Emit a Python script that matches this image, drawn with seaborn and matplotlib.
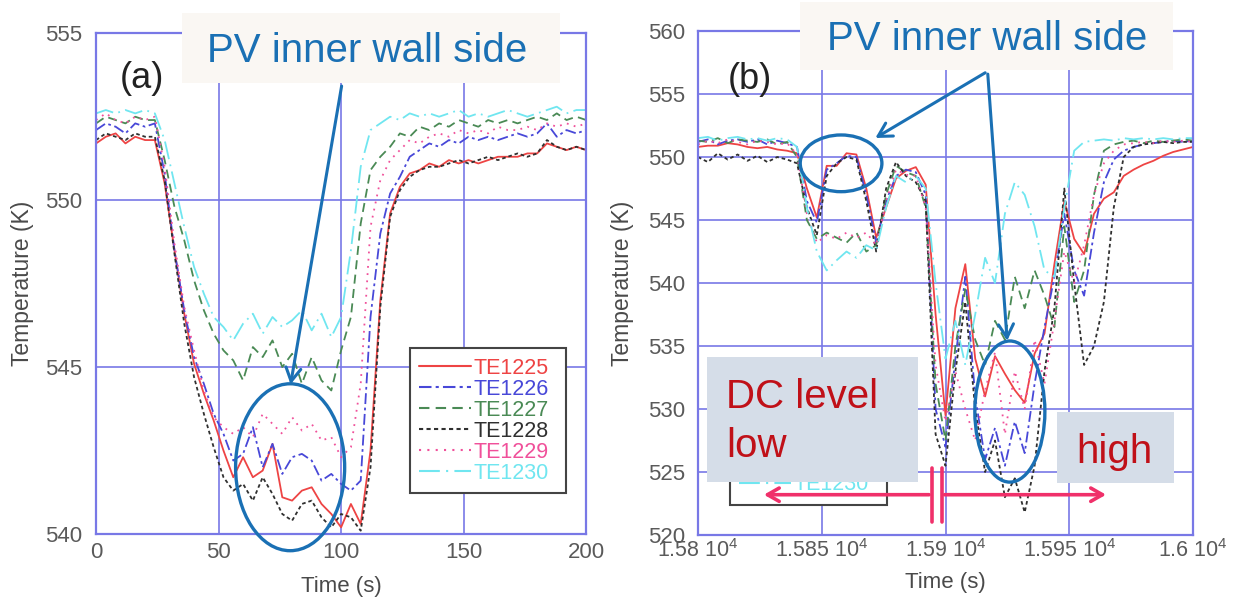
import numpy as np
import pandas as pd
import matplotlib
matplotlib.use("Agg")
import matplotlib.pyplot as plt
from matplotlib.patches import Ellipse, Rectangle
from matplotlib.lines import Line2D
import seaborn as sns

# ---------------- data ----------------
series_names = ["TE1225", "TE1226", "TE1227", "TE1228", "TE1229", "TE1230"]

time_a = [0, 4, 8, 12, 16, 20, 24, 28, 32, 36, 40, 44, 48, 52, 56, 60, 64, 68, 72, 76,
          80, 84, 88, 92, 96, 100, 104, 108, 112, 116, 120, 124, 128, 132, 136, 140,
          144, 148, 152, 156, 160, 164, 168, 172, 176, 180, 184, 188, 192, 196, 200]

te1225_a = [551.7, 551.9, 552.0, 551.7, 551.9, 551.8, 551.8, 550.5, 548.5, 546.6, 545.1,
            544.2, 543.4, 542.5, 541.7, 542.3, 541.7, 541.9, 542.7, 541.1, 541.0, 541.3,
            541.4, 540.9, 540.6, 540.2, 540.9, 540.3, 542.5, 547.0, 549.6, 550.4, 550.8,
            550.9, 551.1, 551.0, 551.2, 551.1, 551.2, 551.1, 551.2, 551.3, 551.3, 551.3,
            551.4, 551.4, 551.7, 551.6, 551.5, 551.6, 551.5]
te1226_a = [552.1, 552.3, 552.2, 552.0, 552.3, 552.2, 552.3, 550.8, 548.5, 546.7, 545.3,
            544.5, 543.6, 543.0, 542.2, 542.4, 543.2, 542.0, 542.7, 541.8, 542.3, 542.4,
            542.2, 541.6, 541.8, 541.5, 541.3, 541.6, 546.5, 549.0, 550.2, 550.7, 551.3,
            551.5, 551.7, 551.6, 551.8, 551.7, 551.9, 551.8, 551.9, 551.8, 551.9, 552.0,
            551.9, 552.0, 552.3, 551.9, 552.1, 552.0, 552.1]
te1227_a = [552.3, 552.5, 552.4, 552.3, 552.5, 552.4, 552.4, 551.2, 549.8, 548.8, 547.6,
            546.7, 546.0, 545.5, 545.2, 544.6, 545.6, 545.3, 545.8, 545.0, 545.4, 544.5,
            545.3, 544.6, 544.3, 545.5, 546.5, 549.3, 550.9, 551.3, 551.6, 552.0, 551.9,
            552.2, 552.1, 552.3, 552.2, 552.4, 552.3, 552.2, 552.4, 552.3, 552.4, 552.3,
            552.4, 552.5, 552.4, 552.6, 552.4, 552.5, 552.4]
te1228_a = [551.8, 552.0, 551.9, 551.8, 552.0, 551.9, 551.9, 550.6, 548.4, 546.3, 544.7,
            543.6, 542.6, 541.7, 541.3, 541.5, 541.0, 541.7, 541.2, 540.6, 540.4, 540.9,
            541.0, 540.5, 540.2, 540.6, 540.5, 540.1, 542.0, 546.8, 549.5, 550.3, 550.7,
            550.9, 551.0, 551.0, 551.1, 551.2, 551.1, 551.2, 551.3, 551.2, 551.3, 551.4,
            551.3, 551.4, 551.8, 551.6, 551.5, 551.6, 551.5]
te1229_a = [552.4, 552.6, 552.4, 552.3, 552.5, 552.4, 552.5, 551.0, 548.7, 546.8, 545.5,
            544.3, 543.5, 543.2, 543.0, 543.2, 542.9, 543.6, 543.3, 543.0, 543.5, 543.1,
            543.3, 542.8, 542.9, 542.3, 542.6, 544.5, 549.2, 550.6, 551.2, 551.5, 551.8,
            551.7, 551.9, 552.0, 551.9, 552.1, 552.0, 552.1, 552.0, 552.2, 552.1, 552.1,
            552.2, 552.1, 552.3, 552.2, 552.3, 552.2, 552.3]
te1230_a = [552.6, 552.7, 552.6, 552.7, 552.6, 552.7, 552.6, 551.8, 550.5, 549.2, 548.0,
            547.2, 546.5, 546.2, 545.8, 546.3, 546.6, 546.0, 546.5, 546.2, 546.4, 546.7,
            546.1, 546.6, 545.9, 546.5, 548.5, 551.0, 552.1, 552.3, 552.5, 552.4, 552.6,
            552.5, 552.6, 552.5, 552.6, 552.7, 552.5, 552.6, 552.5, 552.6, 552.7, 552.6,
            552.5, 552.6, 552.7, 552.8, 552.6, 552.7, 552.7]

time_b = [15800, 15804, 15808, 15812, 15816, 15820, 15824, 15828, 15832, 15836, 15840,
          15844, 15848, 15852, 15856, 15860, 15864, 15868, 15872, 15876, 15880, 15884,
          15888, 15892, 15896, 15900, 15904, 15908, 15912, 15916, 15920, 15924, 15928,
          15932, 15936, 15940, 15944, 15948, 15952, 15956, 15960, 15964, 15968, 15972,
          15976, 15980, 15984, 15988, 15992, 15996, 16000]

te1225_b = [550.8, 550.9, 550.9, 551.1, 551.0, 550.8, 550.7, 550.8, 550.6, 550.5, 550.3,
            547.5, 545.2, 549.3, 549.3, 550.3, 550.2, 547.5, 543.6, 546.0, 548.3, 548.9,
            549.2, 547.8, 537.5, 529.5, 538.0, 541.5, 534.0, 531.0, 534.2, 532.8, 531.5,
            530.5, 534.4, 536.0, 541.5, 546.5, 543.5, 542.3, 545.5, 546.7, 547.2, 548.5,
            549.0, 549.4, 549.7, 550.1, 550.4, 550.6, 550.8]
te1226_b = [551.2, 551.4, 551.0, 551.3, 551.4, 551.2, 551.4, 551.0, 551.3, 551.1, 550.8,
            546.5, 544.8, 549.0, 549.5, 550.1, 550.0, 547.0, 543.2, 546.5, 548.5, 549.0,
            548.8, 547.0, 530.0, 527.0, 534.0, 540.5, 531.0, 526.0, 528.5, 525.5, 529.0,
            526.5, 532.0, 536.5, 540.5, 545.5, 541.0, 539.0, 544.0, 548.0, 549.8, 550.5,
            550.8, 551.0, 551.1, 551.2, 551.3, 551.2, 551.3]
te1227_b = [551.3, 551.2, 551.5, 551.1, 551.4, 551.3, 551.2, 551.4, 551.0, 551.2, 550.0,
            545.0, 543.5, 544.0, 543.6, 543.2, 544.0, 542.5, 543.0, 547.0, 549.3, 548.8,
            548.5, 546.0, 532.0, 527.5, 535.0, 539.5, 535.5, 533.5, 537.0, 535.5, 540.5,
            538.0, 541.0, 539.0, 536.5, 544.5, 538.5, 541.0, 547.0, 550.5, 551.0, 551.2,
            551.3, 551.1, 551.3, 551.2, 551.3, 551.4, 551.3]
te1228_b = [550.0, 549.6, 550.3, 549.8, 550.2, 549.7, 550.1, 549.6, 550.0, 549.8, 549.5,
            546.0, 543.8, 548.5, 549.5, 550.0, 549.8, 546.5, 542.5, 547.5, 549.6, 548.5,
            548.0, 546.5, 528.0, 525.5, 533.0, 538.5, 530.0, 525.0, 527.5, 523.0, 524.5,
            521.8, 525.5, 533.0, 538.0, 547.5, 540.0, 533.5, 535.0, 538.5, 546.0, 550.0,
            550.8, 551.0, 551.1, 551.2, 551.1, 551.2, 551.2]
te1229_b = [551.0, 551.3, 551.1, 551.4, 551.2, 551.0, 551.3, 551.2, 551.0, 551.1, 550.2,
            545.5, 543.2, 543.8, 543.5, 544.0, 543.6, 544.0, 543.0, 546.5, 549.0, 548.6,
            548.5, 546.0, 533.5, 529.0, 533.0, 530.0, 527.5, 531.5, 534.5, 528.0, 533.0,
            530.0, 535.5, 532.0, 537.0, 542.5, 540.0, 543.0, 547.0, 549.5, 550.5, 551.0,
            551.1, 551.2, 551.1, 551.3, 551.2, 551.3, 551.2]
te1230_b = [551.5, 551.6, 551.3, 551.5, 551.6, 551.4, 551.5, 551.3, 551.5, 551.4, 550.8,
            546.0, 542.5, 541.0, 541.8, 542.5, 542.0, 543.0, 542.6, 546.0, 548.5, 548.0,
            548.5, 547.5, 540.0, 534.0, 537.0, 533.5, 537.5, 542.0, 540.0, 545.5, 548.0,
            547.0, 544.5, 541.0, 540.5, 546.0, 550.5, 551.2, 551.3, 551.4, 551.3, 551.5,
            551.4, 551.5, 551.4, 551.5, 551.4, 551.5, 551.5]

xticks_b = [15800, 15850, 15900, 15950, 16000]
xticklabels_b = ["1.58 10$^4$", "1.585 10$^4$", "1.59 10$^4$", "1.595 10$^4$", "1.6 10$^4$"]

# ---------------- style ----------------
sns.set_theme(style="white")
plt.rcParams["font.family"] = ["Liberation Sans", "DejaVu Sans"]
plt.rcParams["mathtext.fontset"] = "custom"
plt.rcParams["mathtext.rm"] = "Liberation Sans"

colors = ["#ee4444", "#4848d8", "#4a8a55", "#303030", "#f0509a", "#70e6f0"]
styles = ["-", (0, (6, 2, 1.5, 2)), (0, (5, 3)), (0, (2, 1.6)), (0, (1, 3)), (0, (10, 3, 1, 3))]
GRID = "#7878e6"
ANN = "#1a70b4"
TICK = "#5a5a5a"

fig = plt.figure(figsize=(12.44, 5.99), dpi=100)
ax1 = fig.add_axes([0.0772, 0.1085, 0.394, 0.836])
ax2 = fig.add_axes([0.5611, 0.1068, 0.3979, 0.8414])

df_a = pd.DataFrame({"time": time_a, "TE1225": te1225_a, "TE1226": te1226_a, "TE1227": te1227_a,
                     "TE1228": te1228_a, "TE1229": te1229_a, "TE1230": te1230_a})
df_b = pd.DataFrame({"time": time_b, "TE1225": te1225_b, "TE1226": te1226_b, "TE1227": te1227_b,
                     "TE1228": te1228_b, "TE1229": te1229_b, "TE1230": te1230_b})

for ax, df in ((ax1, df_a), (ax2, df_b)):
    for name, c, ls in zip(series_names, colors, styles):
        sns.lineplot(data=df, x="time", y=name, ax=ax, color=c, linestyle=ls,
                     linewidth=1.3, label=name, legend=False)
    ax.grid(True, color=GRID, linewidth=1.2)
    for s in ax.spines.values():
        s.set_color(GRID)
        s.set_linewidth(1.6)
    ax.tick_params(length=0, labelsize=16, labelcolor=TICK)
    ax.set_xlabel("Time (s)", fontsize=16, color="#4a4a4a", labelpad=9)
    ax.set_ylabel("Temperature (K)", fontsize=16.5, color="#4a4a4a")

ax1.set_xlim(0, 200)
ax1.set_ylim(540, 555)
ax1.set_xticks([0, 50, 100, 150, 200])
ax1.set_yticks([540, 545, 550, 555])
ax1.tick_params(axis="x", pad=6)
ax1.tick_params(axis="y", pad=10)
ax1.yaxis.labelpad = 8

ax2.set_xlim(15800, 16000)
ax2.set_ylim(520, 560)
ax2.set_xticks(xticks_b)
ax2.set_xticklabels(xticklabels_b)
ax2.set_yticks(np.arange(520, 561, 5))
ax2.tick_params(axis="x", pad=3, labelsize=15.5)
ax2.tick_params(axis="y", pad=9)
ax2.yaxis.labelpad = 10
ax2.xaxis.labelpad = 7

# legends
handles = [Line2D([], [], color=c, linestyle=ls, linewidth=1.5) for c, ls in zip(colors, styles)]
for ax, anchor in ((ax1, (0.618, 0.06, 0.362, 0.317)), (ax2, (0.042, 0.038, 0.362, 0.32))):
    leg = ax.legend(handles, series_names, loc="lower left", bbox_to_anchor=anchor, mode="expand",
                    fontsize=15.5, labelcolor=colors, frameon=True, fancybox=False,
                    handlelength=2.4, handletextpad=0.1, labelspacing=0.0, borderpad=0.45)
    leg.get_frame().set_edgecolor("#444444")
    leg.get_frame().set_linewidth(1.5)
    leg.get_frame().set_alpha(1)
    leg.set_zorder(5)

# ---------------- annotations panel (a) ----------------
ax1.add_patch(Rectangle((0.1755, 0.900), 0.7715, 0.140, transform=ax1.transAxes,
                        facecolor="#faf7f3", edgecolor="none", clip_on=False, zorder=6))
ax1.text(0.553, 0.942, "PV inner wall side", transform=ax1.transAxes, ha="center",
         va="baseline", fontsize=29, color=ANN, zorder=7)
ax1.text(0.094, 0.910, "(a)", transform=ax1.transAxes, ha="center", va="center",
         fontsize=26, color="#222222", zorder=7)
ax1.annotate("", xy=(79.2, 544.4), xytext=(100.4, 553.5),
             arrowprops=dict(arrowstyle="->,head_length=0.8,head_width=0.45", color=ANN, lw=2.2),
             zorder=8)
ax1.add_patch(Ellipse((79.2, 542.0), 44.5, 5.0, facecolor="none", edgecolor=ANN,
                      linewidth=2.4, clip_on=False, zorder=8))

# ---------------- annotations panel (b) ----------------
ax2.add_patch(Rectangle((0.206, 0.923), 0.754, 0.135, transform=ax2.transAxes,
                        facecolor="#faf7f3", edgecolor="none", clip_on=False, zorder=6))
ax2.text(0.585, 0.962, "PV inner wall side", transform=ax2.transAxes, ha="center",
         va="baseline", fontsize=29, color=ANN, zorder=7)
ax2.text(0.105, 0.903, "(b)", transform=ax2.transAxes, ha="center", va="center",
         fontsize=26, color="#222222", zorder=7)
for tgt in ((15870.7, 551.4), (15925.0, 535.2)):
    ax2.annotate("", xy=tgt, xytext=(15917, 556.8),
                 arrowprops=dict(arrowstyle="->,head_length=0.8,head_width=0.45", color=ANN, lw=2.2),
                 zorder=8)
ax2.add_patch(Ellipse((15857.8, 549.5), 33, 4.5, facecolor="none", edgecolor=ANN,
                      linewidth=2.4, zorder=8))
ax2.add_patch(Ellipse((15926, 529.8), 28.3, 11.2, facecolor="none", edgecolor=ANN,
                      linewidth=2.4, zorder=8))

DCRED = "#c01018"
ax2.add_patch(Rectangle((0.018, 0.105), 0.426, 0.248, transform=ax2.transAxes,
                        facecolor="#d5dde8", edgecolor="none", zorder=9))
ax2.text(0.057, 0.252, "DC level", transform=ax2.transAxes, ha="left", va="baseline",
         fontsize=29, color=DCRED, zorder=10)
ax2.text(0.057, 0.155, "low", transform=ax2.transAxes, ha="left", va="baseline",
         fontsize=29, color=DCRED, zorder=10)
ax2.add_patch(Rectangle((0.725, 0.103), 0.237, 0.141, transform=ax2.transAxes,
                        facecolor="#d5dde8", edgecolor="none", zorder=9))
ax2.text(0.764, 0.143, "high", transform=ax2.transAxes, ha="left", va="baseline",
         fontsize=29, color=DCRED, zorder=10)

PINK = "#f0306a"
ax2.annotate("", xy=(15825.5, 523.2), xytext=(15894.5, 523.2),
             arrowprops=dict(arrowstyle="->,head_length=0.7,head_width=0.4", color=PINK, lw=2.6),
             zorder=11)
ax2.annotate("", xy=(15966, 523.2), xytext=(15898.5, 523.2),
             arrowprops=dict(arrowstyle="->,head_length=0.7,head_width=0.4", color=PINK, lw=2.6),
             zorder=11)
for bx in (15894.5, 15898.5):
    ax2.plot([bx, bx], [521.0, 525.3], color=PINK, linewidth=2.6, zorder=11)

fig.savefig("out.png", dpi=100)
